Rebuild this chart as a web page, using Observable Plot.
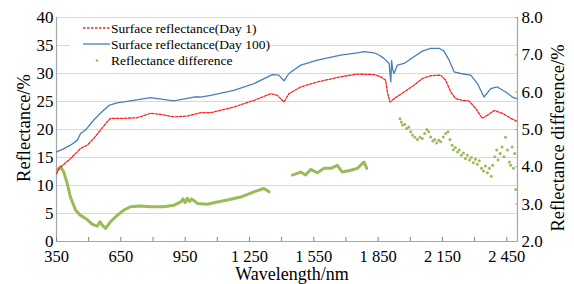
<!DOCTYPE html>
<html><head><meta charset="utf-8">
<script src="https://cdn.jsdelivr.net/npm/d3@7"></script>
<script src="https://cdn.jsdelivr.net/npm/@observablehq/plot@0.6"></script>
<style>
body{margin:0;background:#fff}
#chart{position:relative;width:574px;height:284px}
</style>
</head><body><div id="chart"></div>
<script>
// ---- data ----
const day100Wl = [350,380,415,448,462,485,524,555,594,633,695,789,897,991,1022,1069,1177,1271,1357,1387,1411,1434,1489,1567,1675,1753,1784,1831,1854,1877,1901,1909,1913,1917,1924,1940,1971,2017,2056,2095,2134,2157,2181,2204,2235,2282,2313,2344,2375,2406,2445,2476,2496];
const day100Val = [16.0,16.5,17.2,18.1,19.3,19.9,21.7,22.9,24.3,24.75,25.1,25.7,25.1,25.8,25.8,26.1,27.0,28.2,29.8,29.7,28.7,30.0,31.5,32.4,33.3,33.7,33.9,33.7,33.3,32.7,31.8,28.5,32.3,30.9,30.0,31.5,31.8,33.0,34.0,34.5,34.5,34.0,32.4,30.3,30.0,29.7,28.2,25.8,27.3,27.6,26.7,25.8,25.5];

const day1Wl = [350,361,415,462,493,524,555,587,602,664,727,789,835,897,960,1022,1069,1177,1271,1349,1380,1411,1434,1489,1567,1675,1753,1831,1862,1885,1893,1905,1924,1971,2017,2056,2095,2142,2165,2189,2212,2243,2274,2305,2336,2360,2391,2430,2468,2496];
const day1Val = [12.1,13.0,14.8,16.6,17.2,18.4,19.9,21.4,22.0,22.0,22.1,22.9,22.7,22.25,22.4,23.0,23.0,24.0,25.2,26.4,26.1,24.9,26.4,27.6,28.5,29.4,29.9,29.8,29.4,28.8,26.7,24.9,25.5,26.7,27.9,29.1,29.6,29.7,28.8,26.7,25.5,25.2,25.1,23.75,22.0,22.55,23.4,22.9,22.0,21.5];

// reflectance difference (right axis, %), three measured bands
const diffSeg1Wl = [353,369,384,400,415,439,462,493,517,540,552,563,579,602,633,664,695,742,789,851,897,930,940,950,960,970,980,990,1007,1053,1100,1147,1209,1271,1317,1341];
const diffSeg1Val = [3.91,4.0,3.86,3.55,3.19,2.84,2.70,2.59,2.46,2.41,2.53,2.44,2.35,2.53,2.70,2.84,2.93,2.95,2.93,2.93,2.97,3.06,3.14,3.04,3.16,3.07,3.14,3.10,3.02,3.0,3.06,3.11,3.19,3.33,3.42,3.33];
const diffSeg2Wl = [1450,1489,1512,1535,1567,1598,1629,1660,1683,1722,1753,1784,1797];
const diffSeg2Val = [3.78,3.86,3.78,3.93,3.84,3.96,3.96,4.04,3.86,3.91,3.96,4.13,3.96];
const diffSeg3Wl = [1952,1958,1964,1974,1983,1993,2002,2010,2021,2033,2045,2056,2067,2077,2086,2095,2105,2114,2123,2133,2142,2154,2165,2176,2185,2195,2201,2210,2220,2229,2238,2248,2257,2266,2276,2285,2294,2304,2313,2322,2332,2341,2350,2360,2369,2378,2384,2394,2403,2409,2419,2428,2437,2444,2453,2462,2468,2475,2481,2487,2492];
const diffSeg3Val = [5.29,5.20,5.12,5.14,5.03,5.07,4.94,4.85,4.79,4.73,4.79,4.76,4.89,5.0,4.94,4.80,4.69,4.73,4.64,4.71,4.67,4.80,4.89,4.94,4.73,4.58,4.46,4.52,4.40,4.45,4.31,4.37,4.22,4.31,4.18,4.25,4.11,4.20,4.07,4.16,3.96,3.89,4.02,3.84,3.96,3.75,4.04,4.27,4.45,4.18,4.36,4.53,4.27,4.79,4.45,4.13,4.04,4.53,3.96,4.36,3.39];

const xLabelTicks = [350,650,950,1250,1550,1850,2150,2450];
const xMinorTicks = [350,500,650,800,950,1100,1250,1400,1550,1700,1850,2000,2150,2300,2450];
const leftTicks = [0,5,10,15,20,25,30,35,40];
const rightTicks = [2,3,4,5,6,7,8];
const legendLabels = ["Surface reflectance(Day 1)","Surface reflectance(Day 100)","Reflectance difference"];

// ---- tables ----
const day1 = day1Wl.map((w,i)=>({w, v: day1Val[i]}));
const day100 = day100Wl.map((w,i)=>({w, v: day100Val[i]}));
const seg12 = [
  ...diffSeg1Wl.map((w,i)=>({w, v: diffSeg1Val[i], s: 1})),
  ...diffSeg2Wl.map((w,i)=>({w, v: diffSeg2Val[i], s: 2}))
];
const seg3 = diffSeg3Wl.map((w,i)=>({w, v: diffSeg3Val[i]}));

// right axis (2..8) mapped onto left scale (0..40)
const toLeft = v => (v - 2) / 6 * 40;
const fmtX = d => d >= 1000 ? String(d).replace(/^(\d)(\d{3})$/, "$1 $2") : String(d);

const RED = "#FF2020", BLUE = "#4A7EBB", GREEN = "#9BBB59";
const FONT = "'Liberation Serif', 'Times New Roman', serif";

const plot = Plot.plot({
  width: 574, height: 284,
  marginLeft: 56, marginRight: 57, marginTop: 17, marginBottom: 43,
  style: {fontFamily: FONT, fontSize: "17px", background: "white", color: "#000"},
  x: {domain: [350, 2500]},
  y: {domain: [0, 40]},
  marks: [
    Plot.gridY(leftTicks, {stroke: "#D9D9D9", strokeOpacity: 1, strokeWidth: 1.2}),
    Plot.ruleY([0], {stroke: "#A6A6A6", strokeWidth: 1.2}),
    Plot.ruleX([350, 2500], {stroke: "#A6A6A6", strokeWidth: 1.2}),
    Plot.line(seg12, {x: "w", y: d => toLeft(d.v), z: "s", stroke: GREEN, strokeWidth: 3, curve: "linear"}),
    Plot.dot(seg3, {x: "w", y: d => toLeft(d.v), r: 1.5, fill: GREEN, stroke: null}),
    Plot.line(day100, {x: "w", y: "v", stroke: BLUE, strokeWidth: 1.3}),
    Plot.line(day1, {x: "w", y: "v", stroke: RED, strokeWidth: 1.3, strokeDasharray: "2.5,1.5"}),
    Plot.axisY({ticks: leftTicks, tickSize: 0, tickPadding: 3, label: null}),
    Plot.axisY({anchor: "right", ticks: rightTicks.map(toLeft), tickSize: 0, tickPadding: 4, label: null,
      tickFormat: d => (2 + d / 40 * 6).toFixed(1)}),
    Plot.axisY({anchor: "right", ticks: rightTicks.map(toLeft), tickSize: 3, tickFormat: () => "", label: null, dx: -3, stroke: "#A6A6A6"}),
    Plot.axisX({ticks: xLabelTicks, tickSize: 0, tickPadding: 8.5, tickFormat: fmtX, label: null, fontSize: 16.5}),
    Plot.axisX({ticks: xMinorTicks, tickSize: 4, dy: -4, tickFormat: () => "", label: null, stroke: "#808080"})
  ]
});

const root = document.getElementById("chart");
root.appendChild(plot);
const svg = d3.select(plot);

// axis titles
svg.append("text").attr("transform", "translate(24,128) rotate(-90)")
  .attr("text-anchor", "middle").attr("dy", "0.35em").attr("fill", "#000")
  .style("font-family", FONT).style("font-size", "18.5px").text("Reflectance/%");
svg.append("text").attr("transform", "translate(558,138) rotate(-90)")
  .attr("text-anchor", "middle").attr("dy", "0.35em").attr("fill", "#000")
  .style("font-family", FONT).style("font-size", "18.5px").text("Reflectance difference/%");
svg.append("text").attr("x", 292).attr("y", 280)
  .attr("text-anchor", "middle").attr("fill", "#000")
  .style("font-family", FONT).style("font-size", "18px").text("Wavelength/nm");

// legend
const lg = svg.append("g").attr("text-anchor", "start");
lg.append("rect").attr("x", 70).attr("y", 19).attr("width", 199).attr("height", 49).attr("fill", "white");
const rows = [28, 44, 60.5];
lg.append("line").attr("x1", 83).attr("x2", 110).attr("y1", rows[0]).attr("y2", rows[0])
  .attr("stroke", RED).attr("stroke-width", 1.3).attr("stroke-dasharray", "2.5,1.5");
lg.append("line").attr("x1", 83).attr("x2", 110).attr("y1", rows[1]).attr("y2", rows[1])
  .attr("stroke", BLUE).attr("stroke-width", 1.3);
lg.append("circle").attr("cx", 97).attr("cy", rows[2]).attr("r", 1.3).attr("fill", GREEN);
legendLabels.forEach((t, i) => {
  lg.append("text").attr("x", 111).attr("y", rows[i]).attr("dy", "0.35em")
    .attr("text-anchor", "start").attr("fill", "#000")
    .style("font-family", FONT).style("font-size", "13.5px").text(t);
});
</script>
</body></html>
